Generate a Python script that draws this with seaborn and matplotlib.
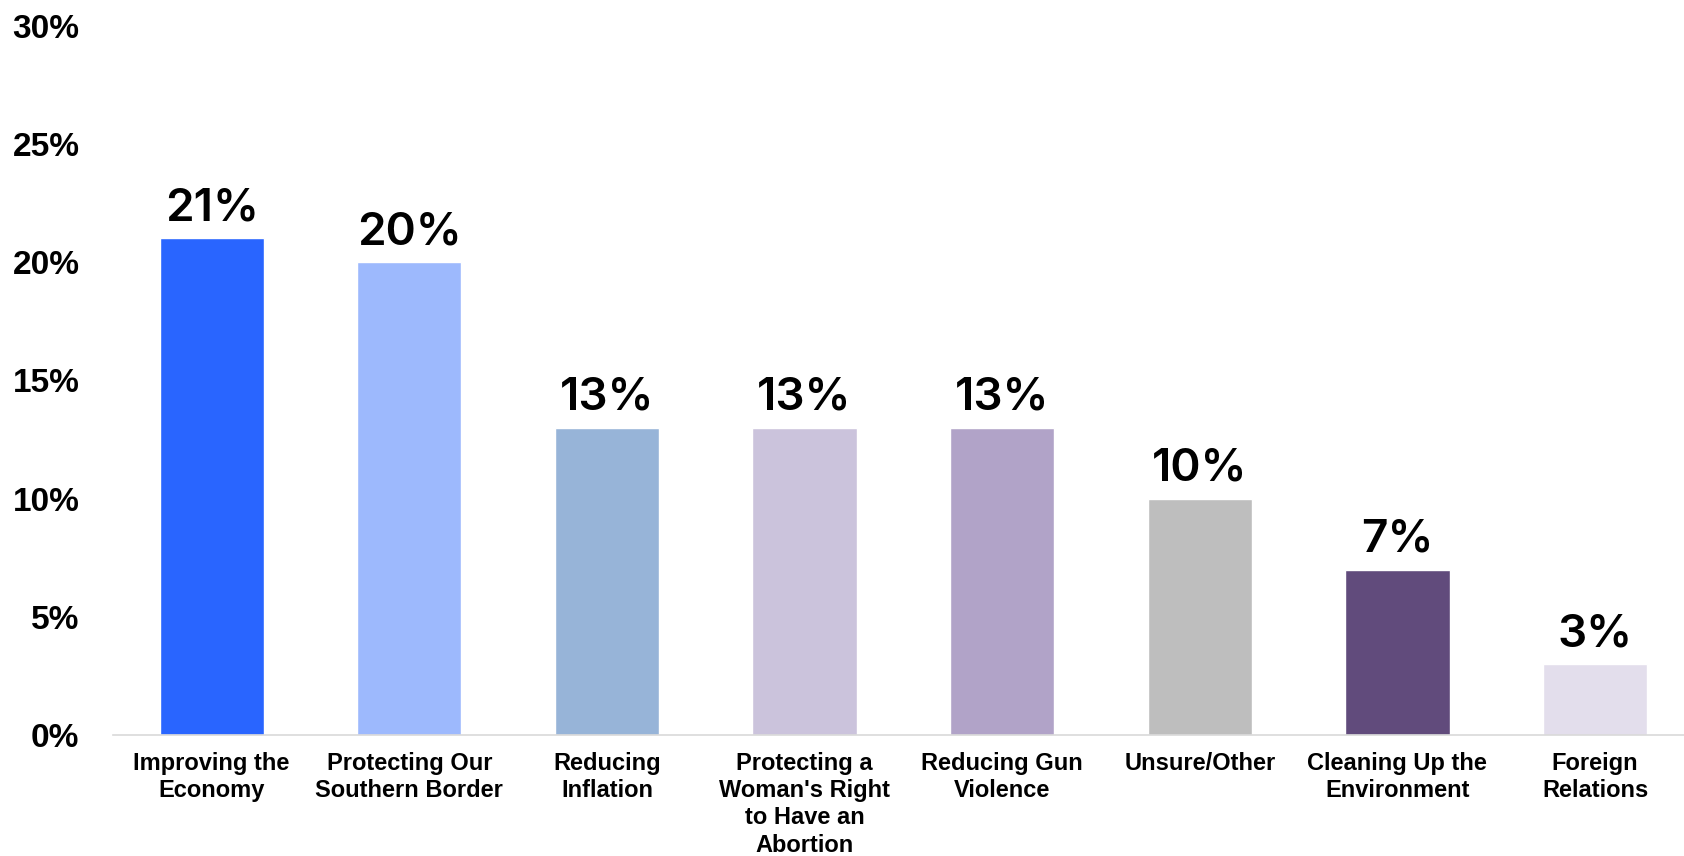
import matplotlib.pyplot as plt
import pandas as pd
import seaborn as sns

# Data
categories = [
    "Improving the\nEconomy",
    "Protecting Our\nSouthern Border",
    "Reducing\nInflation",
    "Protecting a\nWoman's Right\nto Have an\nAbortion",
    "Reducing Gun\nViolence",
    "Unsure/Other",
    "Cleaning Up the\nEnvironment",
    "Foreign\nRelations",
]
shares = [0.21, 0.20, 0.13, 0.13, 0.13, 0.10, 0.07, 0.03]
bar_colors = [
    "#2965FF", "#9DB9FD", "#97B4D8", "#CBC3DC",
    "#B1A3C8", "#BEBEBE", "#614B7C", "#E3DEEC",
]
y_ticks = [0, 0.05, 0.10, 0.15, 0.20, 0.25, 0.30]
y_tick_labels = ["0%", "5%", "10%", "15%", "20%", "25%", "30%"]

df = pd.DataFrame({"category": categories, "share": shares})

sns.set_style("white")
plt.rcParams["font.family"] = ["Liberation Sans", "DejaVu Sans"]

fig = plt.figure(figsize=(16.84, 8.56), dpi=100)
ax = fig.add_axes([0.067, 0.1413, 0.933, 0.8287])

sns.barplot(
    data=df, x="category", y="share", hue="category",
    palette=bar_colors, width=0.527, legend=False, ax=ax, saturation=1,
)

for i, v in enumerate(shares):
    ax.annotate(
        f"{v * 100:.0f}%", (i, v), xytext=(0, 13), textcoords="offset points",
        ha="center", va="baseline", fontsize=33, family=["Inter", "DejaVu Sans"],
        fontweight="semibold", color="black",
    )

ax.set_xlim(-0.5, 7.45)
ax.set_ylim(0, 0.30)
ax.set_yticks(y_ticks)
ax.set_yticklabels(y_tick_labels, fontsize=24, fontweight="bold", color="black")
ax.set_xticks(range(len(categories)))
ax.set_xticklabels(categories, fontsize=17, fontweight="bold", linespacing=1.24,
                   color="black")
ax.tick_params(axis="y", length=0, pad=24)
ax.tick_params(axis="x", length=0, pad=12)
ax.set_xlabel("")
ax.set_ylabel("")

for side in ["top", "right", "left"]:
    ax.spines[side].set_visible(False)
ax.spines["bottom"].set_color("#D9D9D9")
ax.spines["bottom"].set_linewidth(1.2)

fig.savefig("out.png", dpi=100)
plt.close(fig)
